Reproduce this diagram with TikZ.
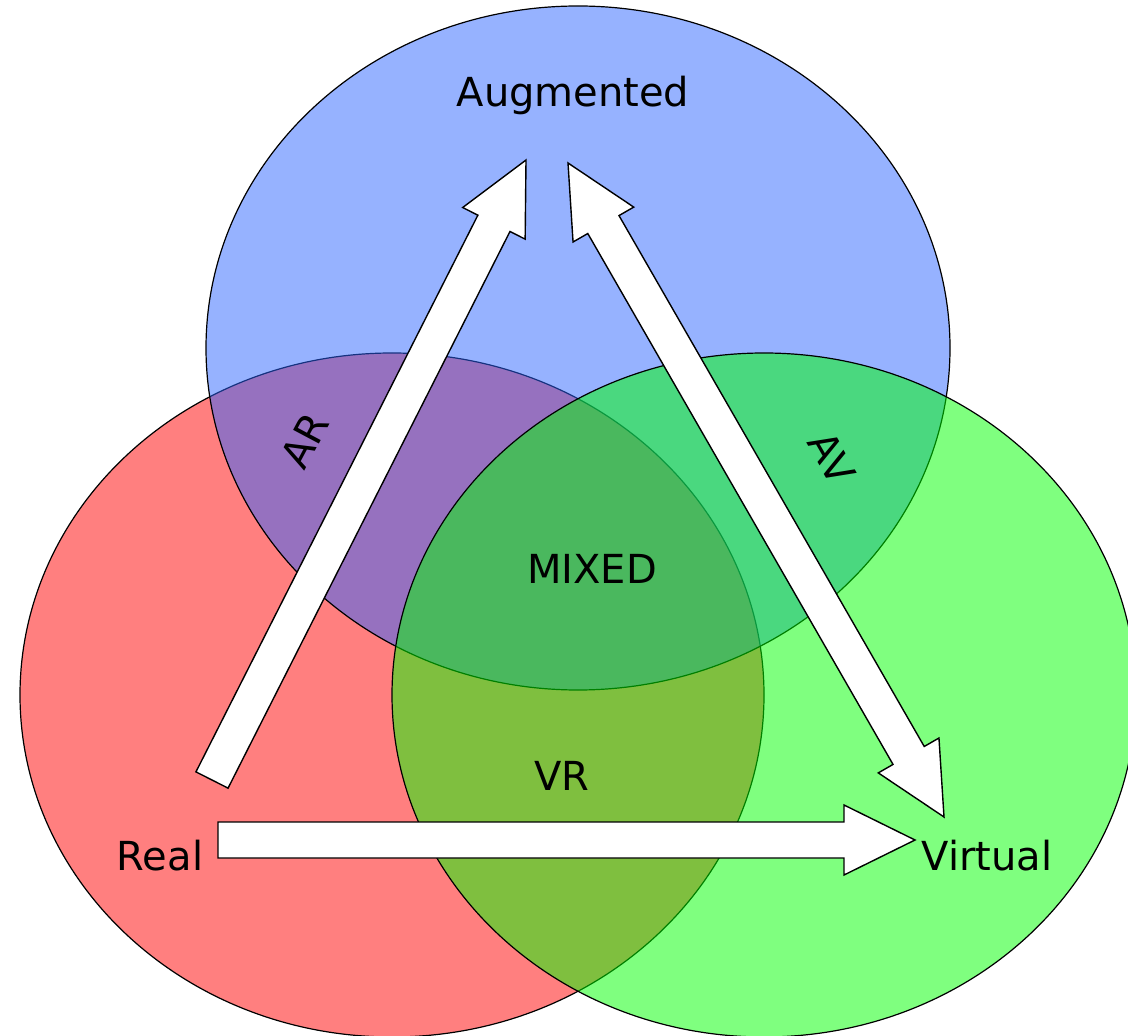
\documentclass[tikz,border=0pt]{standalone}
\usepackage{fontspec}
\setmainfont{DejaVu Sans}
\usepackage{tikz}
\usetikzlibrary{calc,positioning}

\definecolor{augblue}{RGB}{45,101,255}
\definecolor{realred}{RGB}{255,0,0}
\definecolor{virtgreen}{RGB}{0,255,0}

\def\shaft{9pt}
\def\headw{17.5pt}
\def\headlen{35.5pt}

\tikzset{
  venn/.style={draw=black, line width=0.6pt, fill opacity=0.5},
  arrowbody/.style={draw=black, fill=white, line width=0.7pt, line join=miter},
  lbl/.style={font=\fontsize{20}{24}\selectfont, text=black},
}

% block arrow from #1 to #2
\newcommand{\blockarrow}[2]{%
  \coordinate (#2-h) at ($(#2)!\headlen!(#1)$);
  \draw[arrowbody] ($(#1)!\shaft!90:(#2)$) -- ($(#2-h)!\shaft!90:(#2)$)
    -- ($(#2-h)!\headw!90:(#2)$) -- (#2) -- ($(#2-h)!\headw!-90:(#2)$)
    -- ($(#2-h)!\shaft!-90:(#2)$) -- ($(#1)!\shaft!-90:(#2)$) -- cycle;}

% block arrow with a head at both ends
\newcommand{\doubleblockarrow}[2]{%
  \coordinate (#1-h) at ($(#1)!\headlen!(#2)$);
  \coordinate (#2-h) at ($(#2)!\headlen!(#1)$);
  \draw[arrowbody] (#1) -- ($(#1-h)!\headw!90:(#2)$) -- ($(#1-h)!\shaft!90:(#2)$)
    -- ($(#2-h)!\shaft!90:(#2)$) -- ($(#2-h)!\headw!90:(#2)$) -- (#2)
    -- ($(#2-h)!\headw!-90:(#2)$) -- ($(#2-h)!\shaft!-90:(#2)$)
    -- ($(#1-h)!\shaft!-90:(#2)$) -- ($(#1-h)!\headw!-90:(#2)$) -- cycle;}

\begin{document}
\begin{tikzpicture}[x=0.5pt, y=-0.5pt]
\useasboundingbox (0,0) rectangle (1128,1036);
%
\draw[venn, fill=realred] (392,695) ellipse [x radius=186pt, y radius=171pt];
\draw[venn, fill=augblue] (578,348) ellipse [x radius=186pt, y radius=171pt];
\draw[venn, fill=virtgreen] (764,695) ellipse [x radius=186pt, y radius=171pt];
%
\coordinate (artail) at (212,780);
\coordinate (artip) at (526,160);
\coordinate (avtop) at (568,163);
\coordinate (avbot) at (944,817);
\coordinate (rvtail) at (218,840);
\coordinate (rvtip) at (915,840);

\blockarrow{artail}{artip}
\doubleblockarrow{avtop}{avbot}
\blockarrow{rvtail}{rvtip}
%
\node[lbl, anchor=base] (augmented) at (573,107) {Augmented};
\node[lbl, anchor=base] (mixed) at (592,583) {MIXED};
\node[lbl, anchor=base] (vr) at (562,790) {VR};
\node[lbl, anchor=base] (real) at (160,870) {Real};
\node[lbl, anchor=base] (virtual) at (987,870) {Virtual};
\node[lbl, rotate=62] (ar) at (305,440) {AR};
\node[lbl, rotate=-60] (av) at (832,458) {AV};
%
\end{tikzpicture}
\end{document}
